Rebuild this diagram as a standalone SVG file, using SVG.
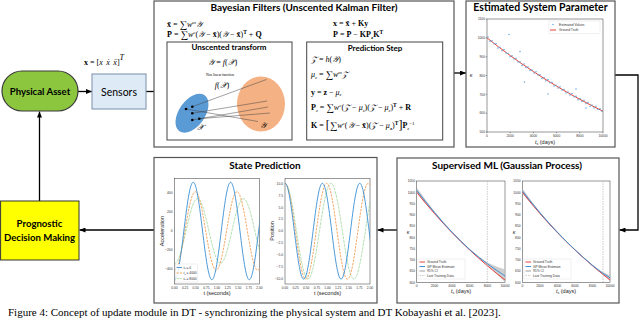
<svg xmlns="http://www.w3.org/2000/svg" width="640" height="319" viewBox="0 0 640 319">
<style>
.box{fill:#fff;stroke:#555;stroke-width:1.2}
.ttl{font-family:Lato,"Liberation Sans",sans-serif;font-weight:bold;text-anchor:middle;fill:#000}
.m{font-family:"Liberation Serif","DejaVu Serif",serif;font-size:8px;fill:#000}
.i{font-style:italic}
.b{font-weight:bold}
.tk{font-family:"Liberation Sans",sans-serif;font-size:3.3px;fill:#333}
.tr{text-anchor:end}
.tc{text-anchor:middle}
.ax{fill:none;stroke:#333;stroke-width:0.5}
.lab{font-family:"Liberation Sans",sans-serif;font-size:5.5px;fill:#222;text-anchor:middle}
.con{fill:none;stroke:#000;stroke-width:1.3}
.gt{fill:none;stroke:#e8413a;stroke-width:1}
.gp{fill:none;stroke:#3d8fd6;stroke-width:1}
.ci{fill:#bdbdbd;fill-opacity:0.75}
.ltd{fill:none;stroke:#aaa;stroke-width:0.6;stroke-dasharray:1.5,1}
.c1{fill:none;stroke:#3a8fd4;stroke-width:0.9}
.c2{fill:none;stroke:#f59a4a;stroke-width:0.9;stroke-dasharray:2.2,1.2}
.c3{fill:none;stroke:#8fd18f;stroke-width:0.9;stroke-opacity:0.75;stroke-dasharray:3,0.8}
.lg{fill:#fff;fill-opacity:0.85;stroke:#ccc;stroke-width:0.3}
</style>
<defs>
<marker id="ah" markerWidth="6" markerHeight="5" refX="6" refY="2.5" orient="auto" markerUnits="userSpaceOnUse"><path d="M0,0 L6,2.5 L0,5 z" fill="#000"/></marker>
<clipPath id="cpa"><rect x="174.5" y="178.5" width="85" height="105.5"/></clipPath>
<clipPath id="cpp"><rect x="285" y="178.5" width="85" height="105.5"/></clipPath>
<clipPath id="cpl"><rect x="416.7" y="181" width="88.3" height="101.3"/></clipPath>
<clipPath id="cpr"><rect x="522.3" y="181" width="87.7" height="101.3"/></clipPath>
</defs>

<!-- Connectors -->
<g id="connectors">
<line class="con" x1="78" y1="91.5" x2="92" y2="91.5" marker-end="url(#ah)"/>
<line class="con" x1="146" y1="91.5" x2="167" y2="91.5" marker-end="url(#ah)"/>
<line class="con" x1="292" y1="91.7" x2="306.7" y2="91.7" marker-end="url(#ah)"/>
<line class="con" x1="454" y1="73" x2="466" y2="73" marker-end="url(#ah)"/>
<polyline class="con" points="615,75 638,75 638,230 619.5,230" marker-end="url(#ah)"/>
<line class="con" x1="397" y1="230" x2="377.5" y2="230" marker-end="url(#ah)"/>
<line class="con" x1="154" y1="230" x2="79.5" y2="230" marker-end="url(#ah)"/>
<line class="con" x1="39.5" y1="201" x2="39.5" y2="111.5" marker-end="url(#ah)"/>
<text class="m" x="84" y="65" font-size="11.5"><tspan class="b">x</tspan> = [<tspan class="i">x</tspan><tspan class="i" dx="3.5">ẋ</tspan><tspan class="i" dx="3.5">ẍ</tspan>]<tspan font-size="8" dy="-5" class="i">T</tspan></text>
</g>

<!-- Physical Asset -->
<g id="physical-asset">
<rect x="2" y="71" width="76" height="40" rx="20" fill="#8cc63f" stroke="#3b3b3b" stroke-width="1.2"/>
<text class="ttl" x="40" y="95" font-size="9.6">Physical Asset</text>
</g>

<!-- Sensors -->
<g id="sensors">
<rect x="92" y="74" width="54" height="35" fill="#deebf7" stroke="#8497b0" stroke-width="1.1"/>
<text x="119" y="95.5" font-family="Lato,'Liberation Sans',sans-serif" font-size="10.5" text-anchor="middle">Sensors</text>
</g>

<!-- Prognostic -->
<g id="prognostic">
<rect x="0.6" y="201" width="78.4" height="59" fill="#ffff00" stroke="#333" stroke-width="1"/>
<text class="ttl" x="39.5" y="227" font-size="9.6">Prognostic</text>
<text class="ttl" x="39.5" y="240.5" font-size="9.6">Decision Making</text>
</g>

<!-- Bayesian Filters -->
<g id="bayesian-filters">
<rect class="box" x="154" y="1" width="300" height="146"/>
<text class="ttl" x="304" y="10.5" font-size="10">Bayesian Filters (Unscented Kalman Filter)</text>
<text class="m" x="167" y="26.5"><tspan class="b">x̄</tspan> = <tspan font-size="10.5" dy="1">∑</tspan><tspan class="i" dy="-1">w</tspan><tspan class="i" font-size="5" dy="-3">m</tspan><tspan dy="3" class="i">𝒴</tspan></text>
<text class="m" x="167" y="37"><tspan class="b">P̄</tspan> = <tspan font-size="10.5" dy="1">∑</tspan><tspan class="i" dy="-1">w</tspan><tspan class="i" font-size="5" dy="-3">c</tspan><tspan dy="3">(</tspan><tspan class="i">𝒴</tspan> − <tspan class="b">x̄</tspan>)(<tspan class="i">𝒴</tspan> − <tspan class="b">x̄</tspan>)<tspan class="b" font-size="5.5" dy="-3">T</tspan><tspan dy="3"> + </tspan><tspan class="b">Q</tspan></text>
<text class="m" x="333" y="26"><tspan class="b">x</tspan> = <tspan class="b">x̄</tspan> + <tspan class="b">Ky</tspan></text>
<text class="m" x="333" y="37"><tspan class="b">P</tspan> = <tspan class="b">P̄</tspan> − <tspan class="b">KP</tspan><tspan class="b" font-size="5" dy="1.5">z</tspan><tspan class="b" dy="-1.5">K</tspan><tspan class="b" font-size="5.5" dy="-3">T</tspan></text>
</g>

<!-- Unscented transform -->
<g id="unscented-transform">
<rect x="167" y="42" width="125" height="98" fill="#fff" stroke="#444" stroke-width="1"/>
<text class="ttl" x="229" y="50" font-size="8">Unscented transform</text>
<text class="m" x="222.7" y="64.5" text-anchor="middle"><tspan class="i">𝒴</tspan> = <tspan class="i">f</tspan>(<tspan class="i">𝒳</tspan>)</text>
<text x="220" y="76" font-family="'Liberation Serif',serif" font-size="3.6" text-anchor="middle">Non linear function</text>
<text class="m" x="222" y="88" text-anchor="middle"><tspan class="i">f</tspan>(<tspan class="i">𝒳</tspan>)</text>
<ellipse cx="261" cy="104" rx="24" ry="27.5" fill="#f4b183"/>
<ellipse cx="192" cy="113.3" rx="13" ry="22" transform="rotate(35 192 113.3)" fill="#5b9bd5"/>
<g stroke="#444" stroke-width="0.5">
<line x1="192.3" y1="106.7" x2="266.5" y2="79.5"/>
<line x1="192.3" y1="113.3" x2="267" y2="101"/>
<line x1="192.3" y1="120" x2="268" y2="107"/>
<line x1="199.3" y1="118.7" x2="270" y2="113"/>
<line x1="186" y1="109" x2="258" y2="121.5"/>
</g>
<g fill="#000">
<circle cx="186" cy="109" r="1.3"/><circle cx="192.3" cy="106.7" r="1.3"/><circle cx="192.3" cy="113.3" r="1.3"/><circle cx="192.3" cy="120" r="1.3"/><circle cx="199.3" cy="118.7" r="1.3"/>
</g>
<text class="m i" x="200" y="130" font-size="9" text-anchor="middle">𝒳</text>
<text class="m i" x="263" y="127.5" font-size="9" text-anchor="middle">𝒴</text>
</g>

<!-- Prediction Step -->
<g id="prediction-step">
<rect x="306.7" y="42" width="136" height="98" fill="#fff" stroke="#444" stroke-width="1"/>
<text class="ttl" x="375" y="51" font-size="8">Prediction Step</text>
<text class="m" x="311" y="62"><tspan class="i">𝒵</tspan> = <tspan class="i">h</tspan>(<tspan class="i">𝒴</tspan>)</text>
<text class="m" x="311" y="77"><tspan class="i">μ</tspan><tspan class="i" font-size="5" dy="1.5">z</tspan><tspan dy="-1.5"> = </tspan><tspan font-size="10.5" dy="1">∑</tspan><tspan class="i" dy="-1">w</tspan><tspan class="i" font-size="5" dy="-3">m</tspan><tspan dy="3" class="i">𝒵</tspan></text>
<text class="m" x="311" y="94.5"><tspan class="b">y</tspan> = <tspan class="b">z</tspan> − <tspan class="i">μ</tspan><tspan class="i" font-size="5" dy="1.5">z</tspan></text>
<text class="m" x="311" y="110"><tspan class="b">P</tspan><tspan class="i" font-size="5" dy="1.5">z</tspan><tspan dy="-1.5"> = </tspan><tspan font-size="10.5" dy="1">∑</tspan><tspan class="i" dy="-1">w</tspan><tspan class="i" font-size="5" dy="-3">c</tspan><tspan dy="3">(</tspan><tspan class="i">𝒵</tspan> − <tspan class="i">μ</tspan><tspan class="i" font-size="5" dy="1.5">z</tspan><tspan dy="-1.5">)(</tspan><tspan class="i">𝒵</tspan> − <tspan class="i">μ</tspan><tspan class="i" font-size="5" dy="1.5">z</tspan><tspan dy="-1.5">)</tspan><tspan class="b" font-size="5.5" dy="-3">T</tspan><tspan dy="3"> + </tspan><tspan class="b">R</tspan></text>
<text class="m" x="311" y="128"><tspan class="b">K</tspan> = <tspan font-size="12" dy="1">[</tspan><tspan font-size="10.5">∑</tspan><tspan class="i" dy="-1">w</tspan><tspan class="i" font-size="5" dy="-3">c</tspan><tspan dy="3">(</tspan><tspan class="i">𝒴</tspan> − <tspan class="b">x̄</tspan>)(<tspan class="i">𝒵</tspan> − <tspan class="i">μ</tspan><tspan class="b" font-size="5" dy="1.5">z</tspan><tspan dy="-1.5">)</tspan><tspan class="b" font-size="5.5" dy="-3">T</tspan><tspan font-size="12" dy="4">]</tspan><tspan class="b" dy="-1">P</tspan><tspan class="i" font-size="5" dy="1.5">z</tspan><tspan font-size="5" dy="-5">−1</tspan></text>
</g>

<!-- Estimated System Parameter -->
<g id="estimated-parameter">
<rect class="box" x="466" y="1" width="149" height="146"/>
<text class="ttl" x="540.5" y="10.5" font-size="10.5">Estimated System Parameter</text>
<rect class="ax" x="487" y="19" width="116" height="113"/>
<path class="ax" d="M487,19h-1.2M487,37.8h-1.2M487,56.7h-1.2M487,75.5h-1.2M487,94.3h-1.2M487,113.2h-1.2M487,132h-1.2M487,132v1.2M510.2,132v1.2M533.4,132v1.2M556.6,132v1.2M579.8,132v1.2M603,132v1.2"/>
<g class="tk tr">
<text x="485" y="20.2">1100</text><text x="485" y="39">1000</text><text x="485" y="57.9">900</text><text x="485" y="76.7">800</text><text x="485" y="95.5">700</text><text x="485" y="114.4">600</text><text x="485" y="133.2">500</text>
</g>
<g class="tk tc">
<text x="487" y="137">0</text><text x="510.2" y="137">2000</text><text x="533.4" y="137">4000</text><text x="556.6" y="137">6000</text><text x="579.8" y="137">8000</text><text x="603" y="137">10000</text>
</g>
<text class="lab" x="545" y="143.5"><tspan class="i">t</tspan><tspan font-size="3.5" dy="1">s</tspan><tspan dy="-1"> (days)</tspan></text>
<text class="lab i" x="471" y="77">κ</text>
<polyline class="gt" points="487,37.85 498.6,46.93 510.2,55.55 521.8,63.78 533.4,71.59 545,79.05 556.6,86.13 568.2,92.89 579.8,99.31 591.4,105.41 603,111.25"/>
<path fill="none" stroke="#5aa7dc" stroke-width="1.5" stroke-linecap="round" d="M488,37.1h0M490,41.2h0M492,40.8h0M494,43.8h0M496,43.7h0M498,48h0M500,47.2h0M502,50.7h0M504,49.5h0M506,53h0M508,53.4h0M510,56.7h0M512,55.8h0M514,58.9h0M516,58.3h0M518,62.1h0M520,61.9h0M522,65.4h0M524,64.1h0M526,67.4h0M528,67h0M530,70.6h0M532,69.9h0M534,73h0M536,71.8h0M538,75.1h0M540,74.8h0M542,78.5h0M544,77.6h0M546,80.7h0M548,79.6h0M550,82.8h0M552,82.3h0M554,86h0M556,85.2h0M558,88.1h0M560,86.7h0M562,90.1h0M564,89.4h0M566,92.9h0M568,92.1h0M570,94.9h0M572,93.5h0M574,96.7h0M576,96.2h0M578,99.7h0M580,98.6h0M582,101.5h0M584,100.2h0M586,103.3h0M588,102.6h0M590,106.2h0M592,105.1h0M594,107.9h0M596,106.3h0M598,109.5h0M600,108.7h0M602,111.2h0M509,34.5h0M520,51.5h0M524.5,82h0M548,94h0M576,89h0M586,108h0"/>
<rect class="lg" x="549" y="21" width="51" height="12.5"/>
<path fill="none" stroke="#5aa7dc" stroke-width="1.5" stroke-linecap="round" d="M553,24.5h0"/>
<line class="gt" x1="550" y1="30" x2="556" y2="30"/>
<text class="tk" x="559" y="25.7">Estimated Values</text>
<text class="tk" x="559" y="31.2">Ground Truth</text>
</g>

<!-- Supervised ML -->
<g id="supervised-ml">
<rect class="box" x="397" y="158" width="222" height="145"/>
<text class="ttl" x="507" y="169" font-size="10">Supervised ML (Gaussian Process)</text>
<rect class="ax" x="416.7" y="181" width="88.3" height="101.3"/>
<rect class="ax" x="522.3" y="181" width="87.7" height="101.3"/>
<g class="tk tr">
<text x="415" y="182.2">1050</text><text x="415" y="193.5">1000</text><text x="415" y="204.7">950</text><text x="415" y="216">900</text><text x="415" y="227.2">850</text><text x="415" y="238.5">800</text><text x="415" y="249.7">750</text><text x="415" y="261">700</text><text x="415" y="272.2">650</text><text x="415" y="283.5">600</text>
<text x="520.6" y="182.2">1050</text><text x="520.6" y="193.5">1000</text><text x="520.6" y="204.7">950</text><text x="520.6" y="216">900</text><text x="520.6" y="227.2">850</text><text x="520.6" y="238.5">800</text><text x="520.6" y="249.7">750</text><text x="520.6" y="261">700</text><text x="520.6" y="272.2">650</text><text x="520.6" y="283.5">600</text>
</g>
<g class="tk tc">
<text x="416.7" y="287">0</text><text x="434.4" y="287">2000</text><text x="452" y="287">4000</text><text x="469.7" y="287">6000</text><text x="487.3" y="287">8000</text><text x="505" y="287">10000</text>
<text x="522.3" y="287">0</text><text x="539.8" y="287">2000</text><text x="557.4" y="287">4000</text><text x="574.9" y="287">6000</text><text x="592.5" y="287">8000</text><text x="610" y="287">10000</text>
</g>
<text class="lab" x="461" y="293"><tspan class="i">t</tspan><tspan font-size="3.5" dy="1">s</tspan><tspan dy="-1"> (days)</tspan></text>
<text class="lab" x="566" y="293"><tspan class="i">t</tspan><tspan font-size="3.5" dy="1">s</tspan><tspan dy="-1"> (days)</tspan></text>
<text class="lab i" x="408" y="234">κ</text>
<text class="lab i" x="514" y="234">κ</text>
<g clip-path="url(#cpl)">
<polygon class="ci" points="416.7,187.5 425.53,199.8 434.36,211.3 443.19,221.8 452.02,231.6 460.85,240.6 469.68,248.9 478.51,256.3 487.34,262.6 496.17,266.5 505,269.5 505,282.3 496.17,273.5 487.34,265 478.51,257.7 469.68,250.1 460.85,241.8 452.02,232.8 443.19,223.4 434.36,213.3 425.53,203.4 416.7,193.1"/>
<polyline class="gt" points="416.7,192.26 425.53,203.11 434.36,213.42 443.19,223.26 452.02,232.6 460.85,241.51 469.68,249.98 478.51,258.06 487.34,265.73 496.17,273.03 505,280"/>
<polyline class="gp" points="416.7,190.3 425.53,201.6 434.36,212.3 443.19,222.6 452.02,232.2 460.85,241.2 469.68,249.5 478.51,257 487.34,263.8 496.17,270 505,276"/>
<line class="ltd" x1="487.3" y1="181" x2="487.3" y2="282.3"/>
</g>
<g clip-path="url(#cpr)">
<polygon class="ci" points="522.3,188.3 531.07,200.6 539.84,211.8 548.61,222.2 557.38,231.8 566.15,240.9 574.92,249.4 583.69,257.4 592.46,264.8 601.23,271.3 610,275.5 610,280.5 601.23,273.3 592.46,266 583.69,258.1 574.92,250.1 566.15,241.6 557.38,232.7 548.61,223.4 539.84,213.5 531.07,203.6 522.3,193.5"/>
<polyline class="gt" points="522.3,192.26 531.07,203.11 539.84,213.42 548.61,223.26 557.38,232.6 566.15,241.51 574.92,249.98 583.69,258.06 592.46,265.73 601.23,273.03 610,280"/>
<polyline class="gp" points="522.3,190.8 531.07,202 539.84,212.6 548.61,222.7 557.38,232.2 566.15,241.2 574.92,249.7 583.69,257.7 592.46,265.3 601.23,272.2 610,277.8"/>
<line class="ltd" x1="603" y1="181" x2="603" y2="282.3"/>
</g>
<rect class="lg" x="418" y="259" width="47" height="20"/>
<line class="gt" x1="419.5" y1="262" x2="425" y2="262"/><text class="tk" x="427" y="263.2">Ground Truth</text>
<line class="gp" x1="419.5" y1="266.5" x2="425" y2="266.5"/><text class="tk" x="427" y="267.7">GP Mean Estimate</text>
<rect class="ci" x="419.5" y="270" width="5.5" height="2"/><text class="tk" x="427" y="272.2">95% CI</text>
<line class="ltd" x1="419.5" y1="275.5" x2="425" y2="275.5"/><text class="tk" x="427" y="276.7">Last Training Data</text>
<rect class="lg" x="524" y="259" width="47" height="20"/>
<line class="gt" x1="525.5" y1="262" x2="531" y2="262"/><text class="tk" x="533" y="263.2">Ground Truth</text>
<line class="gp" x1="525.5" y1="266.5" x2="531" y2="266.5"/><text class="tk" x="533" y="267.7">GP Mean Estimate</text>
<rect class="ci" x="525.5" y="270" width="5.5" height="2"/><text class="tk" x="533" y="272.2">95% CI</text>
<line class="ltd" x1="525.5" y1="275.5" x2="531" y2="275.5"/><text class="tk" x="533" y="276.7">Last Training Data</text>
</g>

<!-- State Prediction -->
<g id="state-prediction">
<rect class="box" x="154" y="157.5" width="223" height="145.5"/>
<text class="ttl" x="265" y="169" font-size="10">State Prediction</text>
<rect class="ax" x="174.5" y="178.5" width="85" height="105.5"/>
<rect class="ax" x="285" y="178.5" width="85" height="105.5"/>
<g class="tk tr">
<text x="172.5" y="194">400</text><text x="172.5" y="213.1">200</text><text x="172.5" y="232.2">0</text><text x="172.5" y="251.3">−200</text><text x="172.5" y="270.4">−400</text>
<text x="283" y="184.5">10.0</text><text x="283" y="196.5">7.5</text><text x="283" y="208.5">5.0</text><text x="283" y="220.4">2.5</text><text x="283" y="232.4">0.0</text><text x="283" y="244.4">−2.5</text><text x="283" y="256.4">−5.0</text><text x="283" y="268.3">−7.5</text><text x="283" y="280.3">−10.0</text>
</g>
<g class="tk tc">
<text x="174.5" y="288.5">0.00</text><text x="185.1" y="288.5">0.25</text><text x="195.75" y="288.5">0.50</text><text x="206.4" y="288.5">0.75</text><text x="217" y="288.5">1.00</text><text x="227.6" y="288.5">1.25</text><text x="238.25" y="288.5">1.50</text><text x="248.9" y="288.5">1.75</text><text x="259.5" y="288.5">2.00</text>
<text x="285" y="288.5">0.00</text><text x="295.6" y="288.5">0.25</text><text x="306.25" y="288.5">0.50</text><text x="316.9" y="288.5">0.75</text><text x="327.5" y="288.5">1.00</text><text x="338.1" y="288.5">1.25</text><text x="348.75" y="288.5">1.50</text><text x="359.4" y="288.5">1.75</text><text x="370" y="288.5">2.00</text>
</g>
<text class="lab" x="217" y="295">t (seconds)</text>
<text class="lab" x="327.5" y="295">t (seconds)</text>
<text class="lab" x="0" y="0" font-size="5" transform="translate(163.5 231) rotate(-90)">Acceleration</text>
<text class="lab" x="0" y="0" font-size="5" transform="translate(274 231) rotate(-90)">Position</text>
<g clip-path="url(#cpa)">
<path class="c3" d="M174.5,263.3 c4.15,0 7.73,-15.75 11.48,-32.3 c3.74,-16.55 7.32,-32.3 11.48,-32.3 c4.15,0 7.73,15.75 11.48,32.3 c3.74,16.55 7.32,32.3 11.48,32.3 c4.15,0 7.73,-15.75 11.48,-32.3 c3.74,-16.55 7.32,-32.3 11.48,-32.3 c4.15,0 7.73,15.75 11.48,32.3 c3.74,16.55 7.32,32.3 11.48,32.3"/>
<path class="c2" d="M174.5,270.25 c3.77,0 7.02,-19.14 10.41,-39.25 c3.4,-20.11 6.64,-39.25 10.41,-39.25 c3.77,0 7.02,19.14 10.41,39.25 c3.4,20.11 6.64,39.25 10.41,39.25 c3.77,0 7.02,-19.14 10.41,-39.25 c3.4,-20.11 6.64,-39.25 10.41,-39.25 c3.77,0 7.02,19.14 10.41,39.25 c3.4,20.11 6.64,39.25 10.41,39.25 c3.77,0 7.02,-19.14 10.41,-39.25"/>
<path class="c1" d="M174.5,279.7 c3.38,0 6.3,-23.75 9.35,-48.7 c3.05,-24.95 5.97,-48.7 9.35,-48.7 c3.38,0 6.3,23.75 9.35,48.7 c3.05,24.95 5.97,48.7 9.35,48.7 c3.38,0 6.3,-23.75 9.35,-48.7 c3.05,-24.95 5.97,-48.7 9.35,-48.7 c3.38,0 6.3,23.75 9.35,48.7 c3.05,24.95 5.97,48.7 9.35,48.7 c3.38,0 6.3,-23.75 9.35,-48.7 c3.05,-24.95 5.97,-48.7 9.35,-48.7"/>
</g>
<g clip-path="url(#cpp)">
<path class="c3" d="M285,183.3 c4.15,0 7.73,23.36 11.48,47.9 c3.74,24.54 7.32,47.9 11.48,47.9 c4.15,0 7.73,-23.36 11.48,-47.9 c3.74,-24.54 7.32,-47.9 11.48,-47.9 c4.15,0 7.73,23.36 11.48,47.9 c3.74,24.54 7.32,47.9 11.48,47.9 c4.15,0 7.73,-23.36 11.48,-47.9 c3.74,-24.54 7.32,-47.9 11.48,-47.9"/>
<path class="c2" d="M285,183.3 c3.77,0 7.02,23.36 10.41,47.9 c3.4,24.54 6.64,47.9 10.41,47.9 c3.77,0 7.02,-23.36 10.41,-47.9 c3.4,-24.54 6.64,-47.9 10.41,-47.9 c3.77,0 7.02,23.36 10.41,47.9 c3.4,24.54 6.64,47.9 10.41,47.9 c3.77,0 7.02,-23.36 10.41,-47.9 c3.4,-24.54 6.64,-47.9 10.41,-47.9 c3.77,0 7.02,23.36 10.41,47.9"/>
<path class="c1" d="M285,183.3 c3.38,0 6.3,23.36 9.35,47.9 c3.05,24.54 5.97,47.9 9.35,47.9 c3.38,0 6.3,-23.36 9.35,-47.9 c3.05,-24.54 5.97,-47.9 9.35,-47.9 c3.38,0 6.3,23.36 9.35,47.9 c3.05,24.54 5.97,47.9 9.35,47.9 c3.38,0 6.3,-23.36 9.35,-47.9 c3.05,-24.54 5.97,-47.9 9.35,-47.9 c3.38,0 6.3,23.36 9.35,47.9 c3.05,24.54 5.97,47.9 9.35,47.9"/>
</g>
<rect class="lg" x="175.5" y="264" width="22" height="18"/>
<line class="c1" x1="176.5" y1="267.5" x2="182" y2="267.5"/><text class="tk" x="183.5" y="268.7"><tspan font-style="italic">t</tspan><tspan font-size="2.3" dy="0.7">s</tspan><tspan dy="-0.7"> = 0</tspan></text>
<line class="c2" x1="176.5" y1="273" x2="182" y2="273"/><text class="tk" x="183.5" y="274.2"><tspan font-style="italic">t</tspan><tspan font-size="2.3" dy="0.7">s</tspan><tspan dy="-0.7"> = 4000</tspan></text>
<line class="c3" x1="176.5" y1="278.5" x2="182" y2="278.5"/><text class="tk" x="183.5" y="279.7"><tspan font-style="italic">t</tspan><tspan font-size="2.3" dy="0.7">s</tspan><tspan dy="-0.7"> = 8000</tspan></text>
</g>

<text x="8" y="316.3" font-family="'Liberation Serif',serif" font-size="11" fill="#000">Figure 4: Concept of update module in DT - synchronizing the physical system and DT Kobayashi et al. [2023].</text>
</svg>
